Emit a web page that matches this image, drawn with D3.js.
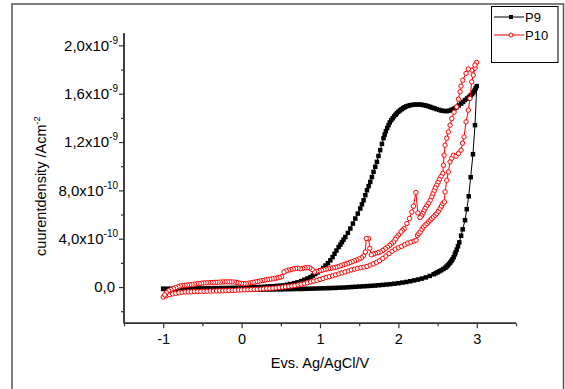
<!DOCTYPE html>
<html><head><meta charset="utf-8">
<script src="https://cdn.jsdelivr.net/npm/d3@7"></script>
<style>body{margin:0;background:#fff}svg{display:block;font-family:"Liberation Sans",Arial,sans-serif}</style>
</head><body><svg id="c" width="565" height="389"></svg>
<script>
// Potential (V vs Ag/AgCl) and current density in units of 1e-10 A/cm^2
const seriesNames = ["P9", "P10"];
const p9Forward = [[-1.00,-0.15],[-0.95,-0.17],[-0.90,-0.18],[-0.85,-0.19],[-0.80,-0.20],[-0.75,-0.20],[-0.70,-0.21],[-0.65,-0.21],[-0.60,-0.21],[-0.55,-0.22],[-0.50,-0.22],[-0.45,-0.22],[-0.40,-0.22],[-0.35,-0.22],[-0.30,-0.22],[-0.25,-0.22],[-0.20,-0.22],[-0.15,-0.22],[-0.10,-0.22],[-0.05,-0.22],[0.00,-0.22],[0.05,-0.22],[0.10,-0.21],[0.15,-0.21],[0.20,-0.21],[0.25,-0.21],[0.30,-0.20],[0.35,-0.20],[0.40,-0.20],[0.45,-0.19],[0.50,-0.19],[0.55,-0.18],[0.60,-0.18],[0.65,-0.17],[0.70,-0.16],[0.75,-0.16],[0.80,-0.15],[0.85,-0.14],[0.90,-0.13],[0.95,-0.12],[1.00,-0.11],[1.05,-0.10],[1.10,-0.09],[1.15,-0.08],[1.20,-0.07],[1.25,-0.05],[1.30,-0.04],[1.35,-0.02],[1.40,0.00],[1.45,0.02],[1.50,0.04],[1.55,0.06],[1.60,0.08],[1.65,0.10],[1.70,0.12],[1.75,0.15],[1.80,0.18],[1.85,0.21],[1.90,0.24],[1.95,0.28],[2.00,0.32],[2.05,0.37],[2.10,0.42],[2.15,0.48],[2.20,0.55],[2.25,0.62],[2.30,0.70],[2.35,0.80],[2.40,0.92],[2.45,1.06],[2.475,1.14],[2.50,1.22],[2.525,1.31],[2.55,1.40],[2.575,1.50],[2.60,1.60],[2.615,1.70],[2.63,1.80],[2.645,1.91],[2.66,2.02],[2.675,2.15],[2.69,2.30],[2.705,2.48],[2.72,2.70],[2.73,2.88],[2.745,3.10],[2.76,3.38],[2.777,3.70],[2.80,4.25],[2.82,4.78],[2.85,5.53],[2.872,6.44],[2.897,7.51],[2.922,9.09],[2.951,10.99],[2.977,13.40],[3.00,16.63]];
const p9Reverse = [[3.00,16.63],[2.985,16.45],[2.97,16.25],[2.955,16.10],[2.94,15.97],[2.92,15.85],[2.90,15.72],[2.875,15.60],[2.85,15.47],[2.825,15.32],[2.80,15.18],[2.77,15.03],[2.744,14.89],[2.72,14.80],[2.70,14.72],[2.675,14.66],[2.65,14.60],[2.617,14.56],[2.585,14.57],[2.55,14.60],[2.52,14.66],[2.489,14.72],[2.46,14.79],[2.43,14.85],[2.405,14.91],[2.379,14.97],[2.355,15.01],[2.33,15.05],[2.30,15.08],[2.277,15.10],[2.245,15.11],[2.21,15.10],[2.18,15.08],[2.15,15.05],[2.125,15.00],[2.10,14.95],[2.08,14.88],[2.061,14.81],[2.04,14.72],[2.02,14.62],[2.00,14.51],[1.981,14.39],[1.963,14.26],[1.945,14.12],[1.927,13.97],[1.908,13.81],[1.89,13.62],[1.874,13.40],[1.857,13.16],[1.84,12.90],[1.825,12.62],[1.81,12.32],[1.79,11.85],[1.768,11.33],[1.746,10.85],[1.726,10.36],[1.705,9.95],[1.683,9.53],[1.662,9.10],[1.641,8.70],[1.62,8.35],[1.599,8.01],[1.578,7.60],[1.556,7.18],[1.535,6.85],[1.514,6.50],[1.482,6.08],[1.450,5.67],[1.42,5.25],[1.387,4.84],[1.355,4.48],[1.323,4.14],[1.30,3.92],[1.28,3.72],[1.26,3.51],[1.238,3.31],[1.21,3.02],[1.185,2.75],[1.16,2.48],[1.132,2.21],[1.10,1.98],[1.07,1.78],[1.04,1.57],[1.005,1.38],[0.97,1.22],[0.94,1.08],[0.91,0.95],[0.878,0.83],[0.84,0.71],[0.80,0.60],[0.76,0.49],[0.712,0.39],[0.67,0.32],[0.62,0.25],[0.58,0.19],[0.534,0.14],[0.49,0.11],[0.45,0.09],[0.41,0.07],[0.369,0.06],[0.33,0.04],[0.30,0.03],[0.25,0.01],[0.20,0.00],[0.16,-0.01],[0.115,-0.02],[0.08,-0.03],[0.05,-0.04],[0.00,-0.05],[-0.05,-0.06],[-0.10,-0.07],[-0.15,-0.07],[-0.20,-0.08],[-0.25,-0.08],[-0.30,-0.09],[-0.35,-0.09],[-0.40,-0.10],[-0.45,-0.10],[-0.50,-0.11],[-0.55,-0.11],[-0.60,-0.12],[-0.65,-0.12],[-0.70,-0.13],[-0.75,-0.13],[-0.80,-0.14],[-0.85,-0.14],[-0.90,-0.14],[-0.95,-0.15],[-1.00,-0.15]];
const p10Forward = [[-1.00,-0.83],[-0.96,-0.72],[-0.92,-0.63],[-0.88,-0.57],[-0.84,-0.52],[-0.80,-0.47],[-0.76,-0.43],[-0.72,-0.41],[-0.68,-0.40],[-0.64,-0.39],[-0.60,-0.38],[-0.56,-0.37],[-0.52,-0.36],[-0.48,-0.35],[-0.44,-0.34],[-0.40,-0.33],[-0.36,-0.33],[-0.32,-0.32],[-0.28,-0.31],[-0.24,-0.31],[-0.20,-0.30],[-0.16,-0.29],[-0.12,-0.28],[-0.08,-0.27],[-0.04,-0.25],[0.00,-0.24],[0.04,-0.23],[0.08,-0.22],[0.12,-0.21],[0.16,-0.20],[0.20,-0.18],[0.24,-0.17],[0.28,-0.15],[0.32,-0.13],[0.36,-0.11],[0.40,-0.09],[0.44,-0.07],[0.48,-0.04],[0.52,-0.01],[0.56,0.02],[0.60,0.06],[0.64,0.09],[0.68,0.13],[0.72,0.18],[0.76,0.23],[0.80,0.29],[0.84,0.36],[0.88,0.43],[0.92,0.49],[0.96,0.55],[1.00,0.63],[1.04,0.71],[1.08,0.80],[1.12,0.86],[1.16,0.93],[1.20,1.01],[1.24,1.09],[1.28,1.17],[1.32,1.25],[1.36,1.33],[1.40,1.41],[1.44,1.48],[1.48,1.54],[1.52,1.60],[1.56,1.65],[1.60,1.71],[1.64,1.81],[1.68,1.92],[1.72,2.04],[1.76,2.18],[1.80,2.36],[1.84,2.56],[1.88,2.77],[1.92,2.96],[1.96,3.13],[2.00,3.25],[2.04,3.37],[2.08,3.50],[2.12,3.64],[2.16,3.72],[2.20,3.80],[2.226,3.87],[2.243,4.28],[2.26,4.42],[2.277,4.56],[2.30,4.78],[2.319,4.97],[2.34,5.11],[2.363,5.25],[2.385,5.39],[2.405,5.53],[2.425,5.66],[2.447,5.80],[2.468,5.94],[2.489,6.08],[2.51,6.28],[2.532,6.50],[2.55,6.70],[2.566,6.91],[2.587,7.04],[2.595,7.87],[2.617,8.84],[2.637,9.53],[2.659,10.36],[2.681,10.66],[2.701,10.91],[2.735,10.83],[2.765,11.05],[2.799,11.33],[2.818,11.91],[2.837,12.43],[2.863,13.67],[2.892,14.64],[2.913,15.61],[2.935,16.98],[2.955,17.54],[2.977,18.12],[2.999,18.59]];
const p10Reverse = [[2.999,18.59],[2.977,18.37],[2.935,17.95],[2.892,18.04],[2.863,17.68],[2.821,17.12],[2.799,16.63],[2.786,16.16],[2.765,15.55],[2.744,14.91],[2.71,14.47],[2.681,13.95],[2.659,13.40],[2.637,12.84],[2.617,12.32],[2.595,11.74],[2.583,10.91],[2.574,10.08],[2.566,9.40],[2.545,9.15],[2.523,8.90],[2.505,8.66],[2.489,8.43],[2.47,8.19],[2.455,7.95],[2.44,7.70],[2.426,7.46],[2.405,7.18],[2.383,6.91],[2.36,6.70],[2.341,6.50],[2.325,6.29],[2.312,6.08],[2.295,5.90],[2.277,5.75],[2.248,6.13],[2.223,7.82],[2.192,6.69],[2.172,6.21],[2.141,5.67],[2.108,5.25],[2.074,4.84],[2.05,4.68],[2.032,4.56],[2.00,4.30],[1.981,4.14],[1.96,3.95],[1.938,3.73],[1.91,3.58],[1.887,3.45],[1.86,3.31],[1.832,3.18],[1.80,3.03],[1.768,2.90],[1.74,2.85],[1.705,2.79],[1.68,2.73],[1.654,2.67],[1.635,3.21],[1.62,4.01],[1.59,4.01],[1.578,2.90],[1.555,2.58],[1.53,2.42],[1.50,2.33],[1.47,2.24],[1.44,2.17],[1.41,2.10],[1.38,2.03],[1.35,1.96],[1.32,1.89],[1.29,1.82],[1.26,1.76],[1.23,1.69],[1.20,1.64],[1.17,1.60],[1.14,1.56],[1.11,1.52],[1.08,1.48],[1.05,1.44],[1.02,1.39],[0.99,1.34],[0.96,1.29],[0.93,1.25],[0.90,1.45],[0.87,1.58],[0.84,1.60],[0.81,1.59],[0.78,1.55],[0.75,1.52],[0.72,1.56],[0.69,1.55],[0.66,1.50],[0.63,1.44],[0.60,1.40],[0.57,1.34],[0.54,1.24],[0.51,0.85],[0.48,0.80],[0.45,0.74],[0.42,0.71],[0.39,0.68],[0.36,0.65],[0.33,0.62],[0.30,0.58],[0.27,0.54],[0.24,0.51],[0.21,0.47],[0.18,0.43],[0.15,0.39],[0.12,0.35],[0.09,0.32],[0.06,0.29],[0.03,0.28],[0.00,0.30],[-0.03,0.33],[-0.06,0.38],[-0.09,0.41],[-0.12,0.42],[-0.15,0.43],[-0.18,0.43],[-0.21,0.43],[-0.24,0.42],[-0.27,0.41],[-0.30,0.40],[-0.33,0.39],[-0.36,0.38],[-0.39,0.37],[-0.42,0.36],[-0.45,0.35],[-0.48,0.34],[-0.51,0.32],[-0.54,0.29],[-0.57,0.27],[-0.60,0.24],[-0.63,0.21],[-0.66,0.19],[-0.69,0.17],[-0.72,0.15],[-0.75,0.12],[-0.78,0.09],[-0.81,0.03],[-0.84,-0.05],[-0.87,-0.12],[-0.90,-0.21],[-0.93,-0.31],[-0.96,-0.47],[-0.98,-0.65]];
const xTickValues = [-1, 0, 1, 2, 3];
const xTickLabels = ["-1", "0", "1", "2", "3"];
const xMinorTicks = [-1.5, -0.5, 0.5, 1.5, 2.5, 3.5];
const yTickValues = [0, 4, 8, 12, 16, 20];
const yTickMantissa = ["0,0", "4,0", "8,0", "1,2", "1,6", "2,0"];
const yTickExponent = [null, "-10", "-10", "-9", "-9", "-9"];
const yMinorTicks = [-2, 2, 6, 10, 14, 18];
const xTitle = "Evs. Ag/AgCl/V";
const yTitle = "cuurentdensity /Acm";
const yTitleSup = "-2";

const svg = d3.select("#c");
const x = d3.scaleLinear().domain([-1.5, 3.5]).range([124, 516]);
const y = d3.scaleLinear().domain([-3, 21]).range([323.3, 33.3]);

// outer frame
svg.append("rect").attr("x", 12).attr("y", 4).attr("width", 551.5).attr("height", 400)
  .attr("fill", "none").attr("stroke", "#555").attr("stroke-width", 1.5);

const axisColor = "#333";
// X axis
const gx = svg.append("g").attr("transform", `translate(0,${y.range()[0]})`)
  .call(d3.axisBottom(x).tickValues(xTickValues).tickSize(5).tickPadding(5)
    .tickFormat((d, i) => xTickLabels[i]));
gx.append("g").call(d3.axisBottom(x).tickValues(xMinorTicks).tickSize(3).tickFormat(""));
// Y axis
const gy = svg.append("g").attr("transform", `translate(${x.range()[0]},0)`)
  .call(d3.axisLeft(y).tickValues(yTickValues).tickSize(5).tickFormat(""));
gy.append("g").call(d3.axisLeft(y).tickValues(yMinorTicks).tickSize(3).tickFormat(""));
[gx, gy].forEach(g => {
  g.selectAll("path.domain").attr("stroke", axisColor).attr("stroke-width", 1.5);
  g.selectAll(".tick line").attr("stroke", axisColor).attr("stroke-width", 1.2);
  g.selectAll("text").attr("fill", "#000").attr("font-size", 14.5).attr("font-family", "Liberation Sans, Arial, sans-serif");
});
gx.selectAll("path.domain").attr("d", `M${x.range()[0]},0H${x.range()[1]}`);
gy.selectAll("path.domain").attr("d", `M0,${y.range()[0]}V${y.range()[1]}`);

// Y tick labels with superscript exponents
const yl = svg.append("g");
yTickValues.forEach((v, i) => {
  const t = yl.append("text").attr("x", 118).attr("y", y(v) + 5.3)
    .attr("text-anchor", "end").attr("font-size", 15).attr("fill", "#000");
  if (yTickExponent[i]) {
    t.append("tspan").text(yTickMantissa[i] + "x10");
    t.append("tspan").attr("font-size", 10).attr("dy", -7).text(yTickExponent[i]);
  } else {
    t.attr("x", 115).text(yTickMantissa[i]);
  }
});

// Axis titles
svg.append("text").attr("x", 320).attr("y", 368).attr("text-anchor", "middle")
  .attr("font-size", 14.5).attr("fill", "#000").text(xTitle);
const yt = svg.append("text").attr("transform", "translate(45.5,186) rotate(-90)")
  .attr("text-anchor", "middle").attr("font-size", 14.5).attr("fill", "#000");
yt.append("tspan").text(yTitle);
yt.append("tspan").attr("font-size", 9.5).attr("dy", -6).text(yTitleSup);

const line = d3.line().x(d => x(d[0])).y(d => y(d[1]));

// P9
const p9 = p9Forward.concat(p9Reverse.slice(1));
svg.append("path").datum(p9).attr("d", line).attr("fill", "none").attr("stroke", "#000").attr("stroke-width", 1);
const sq = 4.5;
svg.append("g").selectAll("rect").data(p9).join("rect")
  .attr("x", d => x(d[0]) - sq / 2).attr("y", d => y(d[1]) - sq / 2).attr("width", sq).attr("height", sq).attr("fill", "#000");

// P10
const p10 = p10Forward.concat(p10Reverse.slice(1));
svg.append("path").datum(p10).attr("d", line).attr("fill", "none").attr("stroke", "#f00").attr("stroke-width", 1);
svg.append("g").selectAll("circle").data(p10).join("circle")
  .attr("cx", d => x(d[0])).attr("cy", d => y(d[1])).attr("r", 2.2)
  .attr("fill", "#fff").attr("stroke", "#f00").attr("stroke-width", 1);

// Legend
const lg = svg.append("g");
lg.append("rect").attr("x", 491.5).attr("y", 6.5).attr("width", 66.5).attr("height", 56)
  .attr("fill", "#fff").attr("stroke", "#000").attr("stroke-width", 1);
const legendColors = ["#000", "#f00"];
seriesNames.forEach((n, i) => {
  const ly = 17 + i * 18;
  lg.append("line").attr("x1", 494).attr("x2", 524).attr("y1", ly).attr("y2", ly)
    .attr("stroke", legendColors[i]).attr("stroke-width", 1);
  if (i === 0) lg.append("rect").attr("x", 509).attr("y", ly - 2).attr("width", 4).attr("height", 4).attr("fill", "#000");
  else lg.append("circle").attr("cx", 511).attr("cy", ly).attr("r", 2).attr("fill", "#fff").attr("stroke", "#f00");
  lg.append("text").attr("x", 525).attr("y", ly + 4.5).attr("font-size", 13).attr("fill", "#000").text(n);
});
</script></body></html>
